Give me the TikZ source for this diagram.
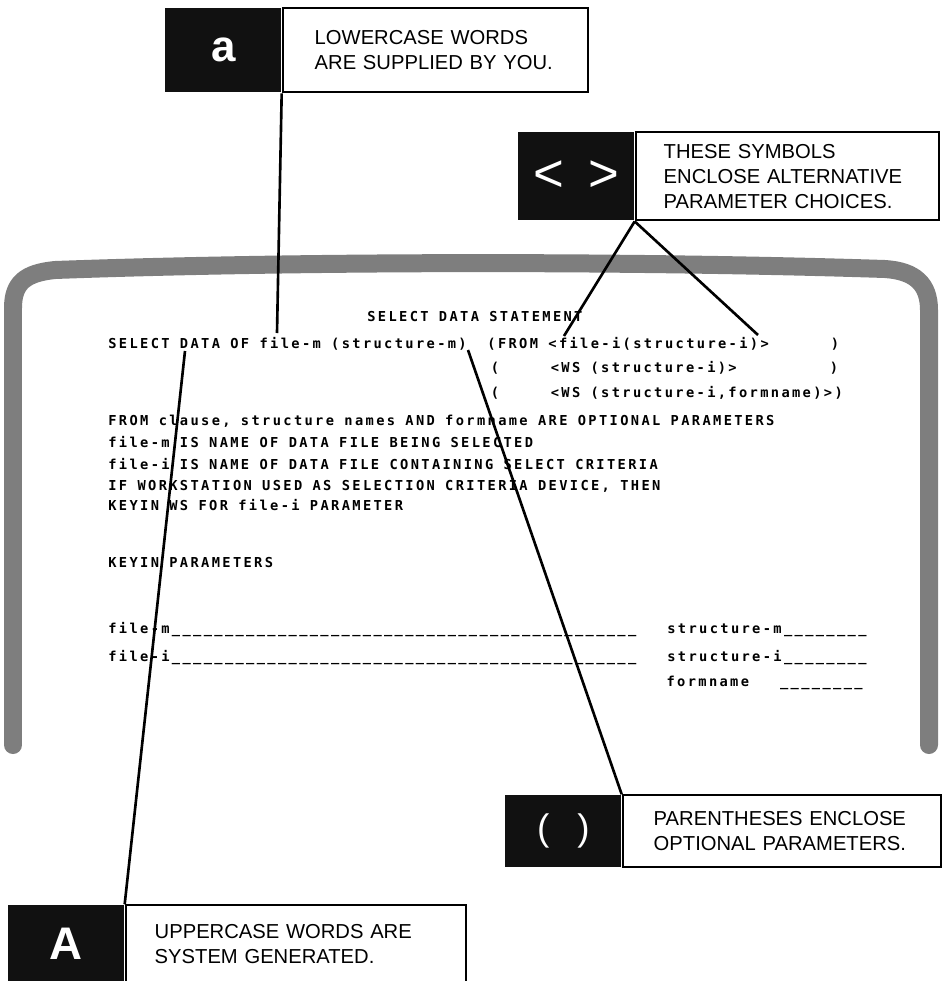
\documentclass[tikz,border=0pt]{standalone}
\usepackage{fontspec}
\setmainfont{Liberation Sans}
\newfontfamily\crtfont{DejaVu Sans Mono}[LetterSpace=17.2]
\usetikzlibrary{positioning}

% column pitch of the screen text
\newlength\crtpitch
\setlength\crtpitch{0.2068cm}
\newcommand\crtsetup{\crtfont\bfseries\fontsize{7.8}{9}\selectfont\spaceskip=\crtpitch\relax}
\newcommand\colgap[1]{\hspace*{#1\crtpitch}}
\newcommand\blanks[1]{\foreach \k in {1,...,#1}{\_}}

\begin{document}
\begin{tikzpicture}[x=0.02cm, y=-0.02cm,
    crt/.style={anchor=base west, inner sep=0pt, font=\crtsetup},
    markbox/.style={anchor=north west, fill=markColour, text=white, inner sep=0pt,
        minimum width=2.32cm, minimum height=#1},
    notebox/.style={draw=black, line width=1.2pt, fill=white, align=left, inner ysep=0pt,
        font=\fontsize{11.5}{14.2}\selectfont, minimum height=#1},
    pointer/.style={line width=1.5pt}]

    \definecolor{markColour}{HTML}{111111}
    \definecolor{bezelColour}{HTML}{7E7E7E}

    % Frame the picture
    \useasboundingbox (0,0) rectangle (943,981);

    % Draw the screen bezel
    \draw[bezelColour, line width=0.36cm, line cap=round]
        (13,745) -- (13,308) .. controls (13,283) and (25,273) .. (55,270)
        .. controls (300,261) and (640,261) .. (885,269)
        .. controls (915,271) and (929,284) .. (929,310) -- (929,745);

    % Screen text
    \node[crt] (title) at (367,321) {SELECT DATA STATEMENT};
    \node[crt] (rowA) at (108,348) {SELECT DATA OF file-m (structure-m)\colgap{2}(FROM <file-i(structure-i)>\colgap{6})};
    \node[crt] (rowB) at (108,372) {\colgap{37}(\colgap{5}<WS (structure-i)>\colgap{9})};
    \node[crt] (rowC) at (108,397) {\colgap{37}(\colgap{5}<WS (structure-i,formname)>)};
    \node[crt] (rowD) at (108,425) {FROM clause, structure names AND formname ARE OPTIONAL PARAMETERS};
    \node[crt] (rowE) at (108,447) {file-m IS NAME OF DATA FILE BEING SELECTED};
    \node[crt] (rowF) at (108,469) {file-i IS NAME OF DATA FILE CONTAINING SELECT CRITERIA};
    \node[crt] (rowG) at (108,490) {IF WORKSTATION USED AS SELECTION CRITERIA DEVICE, THEN};
    \node[crt] (rowH) at (108,510) {KEYIN WS FOR file-i PARAMETER};
    \node[crt] (rowI) at (108,567) {KEYIN PARAMETERS};
    \node[crt] (rowJ) at (108,633) {file-m\blanks{44}\colgap{3}structure-m\blanks{8}};
    \node[crt] (rowK) at (108,661) {file-i\blanks{44}\colgap{3}structure-i\blanks{8}};
    \node[crt] (rowL) at (108,686) {\colgap{54}formname\colgap{3}\blanks{8}};

    % Where the pointers end
    \coordinate (lowerTip) at (277,333);
    \coordinate (altLeftTip) at (564,336);
    \coordinate (altRightTip) at (758,335);
    \coordinate (optTip) at (468,350);
    \coordinate (upperTip) at (185,351);

    % Callouts
    \node[markbox=1.68cm, font=\bfseries\fontsize{25}{25}\selectfont] (lowerMark) at (165,8) {a};
    \node[notebox=1.68cm, text width=4.82cm, inner xsep=0.64cm, right=0pt of lowerMark] (lowerNote)
        {LOWERCASE WORDS\\ARE SUPPLIED BY YOU.};

    \node[markbox=1.76cm, font=\fontsize{30}{30}\selectfont] (altMark) at (518,132) {<\hspace{0.5cm}>};
    \node[notebox=1.76cm, text width=4.94cm, inner xsep=0.56cm, right=0pt of altMark] (altNote)
        {THESE SYMBOLS\\ENCLOSE ALTERNATIVE\\PARAMETER CHOICES.};

    \node[markbox=1.44cm, font=\fontsize{21}{21}\selectfont] (optMark) at (505,795) {(\hspace{0.56cm})};
    \node[notebox=1.44cm, text width=5.12cm, inner xsep=0.62cm, right=0pt of optMark] (optNote)
        {PARENTHESES ENCLOSE\\OPTIONAL PARAMETERS.};

    \node[markbox=1.54cm, font=\bfseries\fontsize{26}{26}\selectfont] (upperMark) at (8,905) {A};
    \node[notebox=1.54cm, text width=5.64cm, inner xsep=0.58cm, right=0pt of upperMark] (upperNote)
        {UPPERCASE WORDS ARE\\SYSTEM GENERATED.};

    % Pointers
    \draw[pointer] (lowerNote.south west) -- (lowerTip);
    \draw[pointer] (altNote.south west) -- (altLeftTip);
    \draw[pointer] (altNote.south west) -- (altRightTip);
    \draw[pointer] (optNote.north west) -- (optTip);
    \draw[pointer] (upperNote.north west) -- (upperTip);

\end{tikzpicture}
\end{document}
